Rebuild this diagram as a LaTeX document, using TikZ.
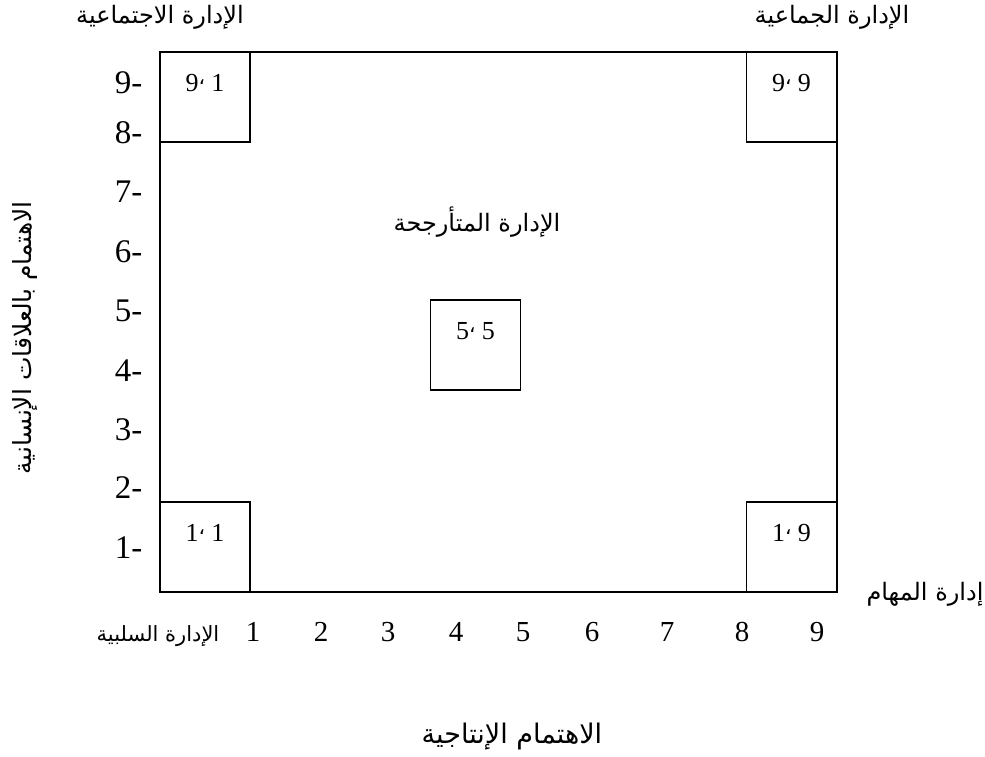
\documentclass[tikz,border=0pt]{standalone}
\usepackage{fontspec}
\setmainfont{Liberation Serif}
\newfontfamily\arabicfont[Script=Arabic]{DejaVu Sans}
\TeXXeTstate=1
\usetikzlibrary{positioning, calc}

\newcommand{\artxt}[1]{{\arabicfont\beginR #1\endR}}
\newcommand{\gridpair}[2]{#1\raisebox{0.28em}{\arabicfont\fontsize{20}{22}\selectfont ،} #2}

\begin{document}
\begin{tikzpicture}[
    x=1pt, y=-1pt,
    frame/.style={rectangle, draw=black, line width=1.6pt, inner sep=0pt,
                  minimum width=677pt, minimum height=540pt},
    cell/.style={rectangle, draw=black, line width=1.6pt, inner sep=0pt,
                 minimum size=90pt},
    celltxt/.style={font=\fontsize{26}{28}\selectfont, inner sep=0pt,
                    text height=18pt, text depth=0pt},
    ytick/.style={anchor=east, font=\fontsize{33}{36}\selectfont},
    xtick/.style={font=\fontsize{29}{32}\selectfont},
    lbl/.style={font=\fontsize{24}{28}\selectfont},
]
\useasboundingbox (0,0) rectangle (985,757);

% Grid frame
\node[frame] (grid) at (498.5,322) {};

% Corner and centre cells
\node[cell] (c91) at (205,97) {};
\node[cell] (c99) at (791.5,97) {};
\node[cell] (c11) at (205,547) {};
\node[cell] (c19) at (791.5,547) {};
\node[cell] (c55) at (475.5,345) {};

\node[celltxt, below=22pt of c91.north] {\gridpair{9}{1}};
\node[celltxt, below=22pt of c99.north] {\gridpair{9}{9}};
\node[celltxt, below=22pt of c11.north] {\gridpair{1}{1}};
\node[celltxt, below=22pt of c19.north] {\gridpair{1}{9}};
\node[celltxt, below=22pt of c55.north] {\gridpair{5}{5}};

% Vertical scale
\node[ytick] (y9) at (146,83) {9-};
\node[ytick] (y8) at (146,133) {8-};
\node[ytick] (y7) at (146,192) {7-};
\node[ytick] (y6) at (146,252) {6-};
\node[ytick] (y5) at (146,311) {5-};
\node[ytick] (y4) at (146,371) {4-};
\node[ytick] (y3) at (146,430) {3-};
\node[ytick] (y2) at (146,488) {2-};
\node[ytick] (y1) at (146,548) {1-};

% Horizontal scale
\node[xtick] (x1) at (253,632) {1};
\node[xtick] (x2) at (321,632) {2};
\node[xtick] (x3) at (388,632) {3};
\node[xtick] (x4) at (456,632) {4};
\node[xtick] (x5) at (523,632) {5};
\node[xtick] (x6) at (592,632) {6};
\node[xtick] (x7) at (667,632) {7};
\node[xtick] (x8) at (742,632) {8};
\node[xtick] (x9) at (817,632) {9};

% Style names
\node[lbl] (social) at (160,17) {\artxt{الإدارة الاجتماعية}};
\node[lbl] (team) at (832,17) {\artxt{الإدارة الجماعية}};
\node[lbl] (middle) at (477,222) {\artxt{الإدارة المتأرجحة}};
\node[lbl, font=\fontsize{21}{24}\selectfont] (passive) at (158,636) {\artxt{الإدارة السلبية}};
\node[lbl] (task) at (925,594) {\artxt{إدارة المهام}};

% Axis titles
\node[lbl, font=\fontsize{27}{30}\selectfont] (xtitle) at (512,737) {\artxt{الاهتمام الإنتاجية}};
\node[lbl, rotate=90, font=\fontsize{25}{28}\selectfont] (ytitle) at (25,338)
     {\artxt{الاهتمام بالعلاقات الإنسانية}};

\end{tikzpicture}
\end{document}
